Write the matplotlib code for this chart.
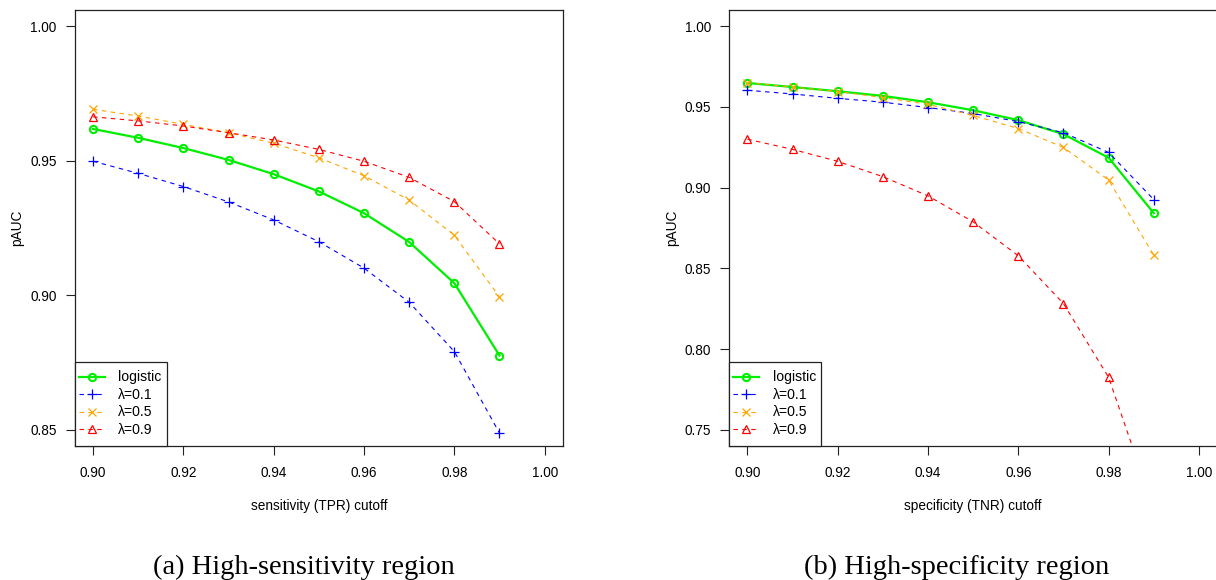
import matplotlib
matplotlib.use("Agg")
import matplotlib.pyplot as plt
from matplotlib.patches import Rectangle

# cutoffs on the x axis
cutoffs = [0.90, 0.91, 0.92, 0.93, 0.94, 0.95, 0.96, 0.97, 0.98, 0.99]

# (a) high-sensitivity region: pAUC per method
sens_logistic = [0.9618, 0.9585, 0.9547, 0.9503, 0.9450, 0.9386, 0.9305, 0.9198, 0.9045, 0.8776]
sens_lam01 = [0.9498, 0.9453, 0.9404, 0.9347, 0.9280, 0.9199, 0.9101, 0.8974, 0.8791, 0.8488]
sens_lam05 = [0.9691, 0.9666, 0.9635, 0.9604, 0.9565, 0.9511, 0.9444, 0.9354, 0.9223, 0.8994]
sens_lam09 = [0.9663, 0.9648, 0.9629, 0.9604, 0.9577, 0.9542, 0.9498, 0.9438, 0.9348, 0.9191]

# (b) high-specificity region: pAUC per method
spec_logistic = [0.9648, 0.9623, 0.9597, 0.9568, 0.9529, 0.9479, 0.9418, 0.9331, 0.9185, 0.8842]
spec_lam01 = [0.9603, 0.9580, 0.9553, 0.9529, 0.9496, 0.9459, 0.9409, 0.9340, 0.9218, 0.8926]
spec_lam05 = [0.9650, 0.9623, 0.9595, 0.9558, 0.9516, 0.9447, 0.9366, 0.9249, 0.9047, 0.8582]
spec_lam09 = [0.9300, 0.9237, 0.9163, 0.9068, 0.8949, 0.8788, 0.8578, 0.8282, 0.7825, 0.7010]

labels = ["logistic", "λ=0.1", "λ=0.5", "λ=0.9"]
xticks = [0.90, 0.92, 0.94, 0.96, 0.98, 1.00]
yticks_a = [0.85, 0.90, 0.95, 1.00]
yticks_b = [0.75, 0.80, 0.85, 0.90, 0.95, 1.00]

plt.rcParams["font.family"] = ["Liberation Sans", "DejaVu Sans"]

W, H = 1216, 580
fig = plt.figure(figsize=(W / 100, H / 100), dpi=100)

styles = [
    dict(color="#00ee00", lw=1.6, ls="-", marker="o", ms=5.2, mfc="none", mew=1.5),
    dict(color="#0000ff", lw=0.8, ls=(0, (4, 4)), marker="+", ms=7.5, mew=0.9),
    dict(color="#ffa500", lw=0.8, ls=(0, (4, 4)), marker="x", ms=5.5, mew=0.9),
    dict(color="#ff0000", lw=0.8, ls=(0, (4, 4)), marker="^", ms=6.2, mfc="none", mew=0.9),
]


def make_axes(left_px, ylim, yticks, series, xlabel):
    bottom_px, top_px, width_px = 446, 10, 487.7
    height_px = bottom_px - top_px
    ax = fig.add_axes([left_px / W, (H - bottom_px) / H, width_px / W,
                       height_px / H])
    handles = []
    for vals, st, lab in zip(series, styles, labels):
        h, = ax.plot(cutoffs, vals, label=lab, **st)
        handles.append(h)
    ax.set_xlim(0.896, 1.004)
    span = ylim[1] - ylim[0]
    ax.set_ylim(ylim[0] - 0.04 * span, ylim[1] + 0.04 * span)
    ax.set_xticks(xticks)
    ax.set_xticklabels([f"{t:.2f}" for t in xticks])
    ax.set_yticks(yticks)
    ax.set_yticklabels([f"{t:.2f}" for t in yticks])
    ax.tick_params(direction="out", length=6.2, width=0.8, labelsize=9.8,
                   color="#222222")
    ax.tick_params(axis="x", pad=8)
    ax.tick_params(axis="y", pad=7)
    for s in ax.spines.values():
        s.set_linewidth(0.9)
        s.set_color("#222222")
    ax.set_xlabel(xlabel, fontsize=9.8, labelpad=14)
    ax.set_ylabel("pAUC", fontsize=9.8, labelpad=4)

    # legend box in the lower-left corner, R style
    ax.add_patch(Rectangle((0, 0), 92 / width_px, 84 / height_px,
                           transform=ax.transAxes, facecolor="white",
                           edgecolor="#222222", lw=0.9, zorder=4,
                           clip_on=False))
    leg = ax.legend(handles=handles, loc="lower left",
                    bbox_to_anchor=(4 / width_px, 9 / height_px),
                    borderaxespad=0, frameon=False,
                    fontsize=10.1, handlelength=1.85, handletextpad=0.95,
                    labelspacing=0.25, borderpad=0)
    leg.set_zorder(5)
    return ax


make_axes(75, (0.85, 1.00), yticks_a,
          [sens_logistic, sens_lam01, sens_lam05, sens_lam09],
          "sensitivity (TPR) cutoff")
make_axes(729.3, (0.75, 1.00), yticks_b,
          [spec_logistic, spec_lam01, spec_lam05, spec_lam09],
          "specificity (TNR) cutoff")

fig.text(304 / W, 1 - 567 / H, "(a) High-sensitivity region", ha="center",
         va="center", fontsize=20.5, family=["Liberation Serif", "DejaVu Serif"])
fig.text(957 / W, 1 - 567 / H, "(b) High-specificity region", ha="center",
         va="center", fontsize=20.5, family=["Liberation Serif", "DejaVu Serif"])

fig.savefig("out.png", dpi=100)
